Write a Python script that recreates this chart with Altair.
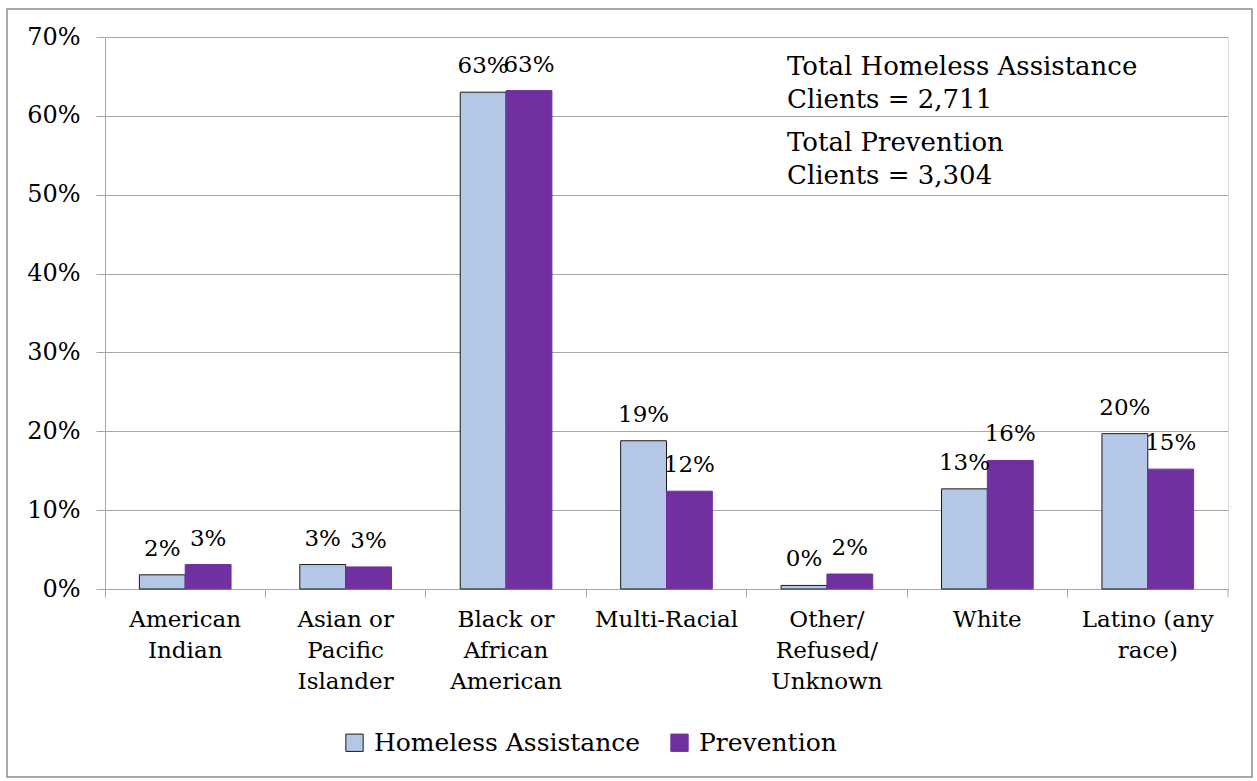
import altair as alt
import pandas as pd

categories = [
    "American|Indian",
    "Asian or|Pacific|Islander",
    "Black or|African|American",
    "Multi-Racial",
    "Other/|Refused/|Unknown",
    "White",
    "Latino (any|race)",
]
series = ["Homeless Assistance", "Prevention"]
homeless = [0.018, 0.031, 0.630, 0.188, 0.0045, 0.127, 0.197]
prevention = [0.031, 0.028, 0.632, 0.124, 0.019, 0.163, 0.152]
annotation_lines = [
    "Total Homeless Assistance\nClients = 2,711",
    "Total Prevention\nClients = 3,304",
]
y_ticks = [0, 0.1, 0.2, 0.3, 0.4, 0.5, 0.6, 0.7]

rows = []
for c, h, p in zip(categories, homeless, prevention):
    rows.append({"category": c, "series": series[0], "value": h})
    rows.append({"category": c, "series": series[1], "value": p})
df = pd.DataFrame(rows)

FONT = "DejaVu Serif"
W, H = 1123, 552
GRID = "#A6A6A6"

x_enc = alt.X(
    "category:N",
    sort=categories,
    scale=alt.Scale(paddingInner=0, paddingOuter=0),
    axis=alt.Axis(
        title=None,
        labelAngle=0,
        labelExpr="split(datum.label, '|')",
        labelFont=FONT,
        labelFontSize=23,
        labelLineHeight=31,
        labelColor="#000",
        labelPadding=11,
        tickSize=8,
        tickColor=GRID,
        domainColor=GRID,
        bandPosition=0,
        grid=False,
        labelBaseline="top",
        labelLimit=0,
    ),
)
y_enc = alt.Y(
    "value:Q",
    scale=alt.Scale(domain=[0, 0.7], nice=False),
    axis=alt.Axis(
        title=None,
        values=y_ticks,
        format=".0%",
        labelFont=FONT,
        labelFontSize=24,
        labelColor="#000",
        labelPadding=16,
        tickSize=9,
        tickColor=GRID,
        domainColor=GRID,
        gridColor=GRID,
        grid=True,
    ),
)
xoff = alt.XOffset(
    "series:N",
    sort=series,
    scale=alt.Scale(paddingInner=0, paddingOuter=0.75),
)
leg = alt.Legend(
    title=None,
    orient="none",
    direction="horizontal",
    legendX=237,
    legendY=693,
    labelFont=FONT,
    labelFontSize=25,
    labelColor="#000",
    labelLimit=0,
    symbolType="square",
    symbolSize=300,
    symbolStrokeWidth=1,
    columnPadding=26,
    labelOffset=7,
)
color_enc = alt.Color(
    "series:N",
    sort=series,
    scale=alt.Scale(domain=series, range=["#B4C7E7", "#7030A0"]),
    legend=leg,
)
stroke_enc = alt.Stroke(
    "series:N",
    sort=series,
    scale=alt.Scale(domain=series, range=["#1a1a1a", "#7030A0"]),
    legend=leg,
)

bars = alt.Chart(df).mark_bar(strokeWidth=1).encode(
    x=x_enc, y=y_enc, xOffset=xoff, color=color_enc, stroke=stroke_enc
)
labels = alt.Chart(df).mark_text(
    font=FONT, fontSize=23, baseline="alphabetic", dy=-19, color="#000"
).encode(
    x=alt.X("category:N", sort=categories),
    xOffset=xoff,
    y="value:Q",
    text=alt.Text("value:Q", format=".0%"),
)

ann = alt.Chart(alt.Data(values=[{"t": annotation_lines[0]}])).mark_text(
    font=FONT, fontSize=26, align="left", baseline="middle", lineBreak="\n",
    lineHeight=33, color="#000"
).encode(x=alt.value(682), y=alt.value(30), text="t:N")
ann2 = alt.Chart(alt.Data(values=[{"t": annotation_lines[1]}])).mark_text(
    font=FONT, fontSize=26, align="left", baseline="middle", lineBreak="\n",
    lineHeight=33, color="#000"
).encode(x=alt.value(682), y=alt.value(106), text="t:N")

end_tick = alt.Chart(alt.Data(values=[{}])).mark_rule(color=GRID).encode(
    x=alt.value(W), y=alt.value(H), y2=alt.value(H + 8)
)
frame = alt.Chart(alt.Data(values=[{}])).mark_rect(
    fillOpacity=0, stroke="#8C8C8C", strokeWidth=1.5
).encode(
    x=alt.value(-98), x2=alt.value(1147), y=alt.value(-28), y2=alt.value(740)
)

chart = alt.layer(frame, bars, labels, ann, ann2, end_tick).properties(
    width=W,
    height=H,
    autosize=alt.AutoSizeParams(type="none"),
    padding={"left": 105, "top": 37, "right": 29, "bottom": 192},
).configure_view(stroke=None).configure(background="white")

chart.save("out.html", embed_options={"renderer": "svg", "actions": False})
